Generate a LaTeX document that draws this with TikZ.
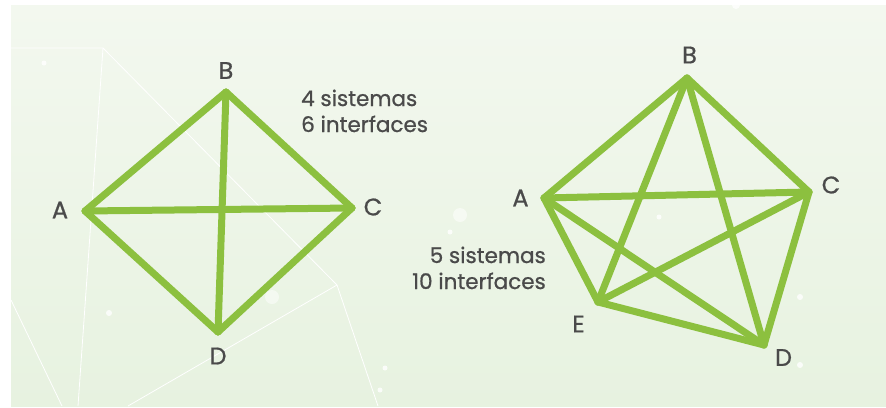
\documentclass[tikz,border=0pt]{standalone}
\usepackage{fontspec}
\setmainfont[FakeBold=0.8]{Poppins}
\definecolor{linkgreen}{HTML}{8CC03F}
\definecolor{labelgray}{HTML}{4A4A4A}
\definecolor{bgtop}{HTML}{F3F8EF}
\definecolor{bgbottom}{HTML}{E7F2E0}
\tikzset{
  link/.style={line width=7pt,draw=linkgreen,line cap=round,line join=round},
  vlabel/.style={inner sep=0pt,text=labelgray,font=\fontsize{24}{26}\selectfont},
  note/.style={inner sep=0pt,text=labelgray,font=\fontsize{21.5}{26}\selectfont},
  faint/.style={draw=white,line width=0.8pt},
  speck/.style={fill=white,opacity=0.8}
}
\begin{document}
\begin{tikzpicture}[x=1pt,y=-1pt]
  \useasboundingbox (0,0) rectangle (886,407);
  \fill[white] (0,0) rectangle (886,407);
  \fill[top color=bgtop,bottom color=bgbottom] (11,5) rectangle (886,406);

  % thin white lines and specks in the back
  \begin{scope}[faint]
    \draw (11,48) -- (103,48) -- (337,285) -- (378,406);
    \draw (103,48) -- (78,406);
    \draw (337,285) -- (128,406);
    \draw (11,300) -- (62,406);
  \end{scope}
  \foreach \x/\y/\r in {44/63/2.5,109/313/3,385/368/2.5,380/390/2.5,
      450/232/2.5,659/217/2.5,800/297/3,800/365/3,736/5/4}
    \fill[speck] (\x,\y) circle (\r);
  \fill[white,opacity=0.5] (272,297) circle (7);
  \fill[white,opacity=0.5] (460,215) circle (7);

  % 4 sistemas
  \coordinate (a4) at (85,211);
  \coordinate (b4) at (226,92);
  \coordinate (c4) at (352,208);
  \coordinate (d4) at (218,332);
  \foreach \u/\v in {a/b,b/c,c/d,d/a,a/c,b/d}
    \draw[link] (\u4) -- (\v4);
  \node[vlabel] (la4) at (60,210) {A};
  \node[vlabel] (lb4) at (226,70.5) {B};
  \node[vlabel] (lc4) at (373,207) {C};
  \node[vlabel] (ld4) at (218,356) {D};
  \node[note,anchor=base west] (sis4) at (301,106) {4 sistemas};
  \node[note,anchor=base west] (int4) at (301,132) {6 interfaces};

  % 5 sistemas
  \coordinate (a5) at (544,198);
  \coordinate (b5) at (687,78);
  \coordinate (c5) at (809,192);
  \coordinate (d5) at (764,345);
  \coordinate (e5) at (598,302);
  \foreach \u/\v in {a/b,b/c,c/d,d/e,e/a,a/c,a/d,b/d,b/e,c/e}
    \draw[link] (\u5) -- (\v5);
  \node[vlabel] (la5) at (520.5,198) {A};
  \node[vlabel] (lb5) at (689.5,55) {B};
  \node[vlabel] (lc5) at (831,185) {C};
  \node[vlabel] (ld5) at (783.5,357.5) {D};
  \node[vlabel] (le5) at (578.5,324) {E};
  \node[note,anchor=base east] (sis5) at (546,263) {5 sistemas};
  \node[note,anchor=base east] (int5) at (546,289) {10 interfaces};
\end{tikzpicture}
\end{document}
